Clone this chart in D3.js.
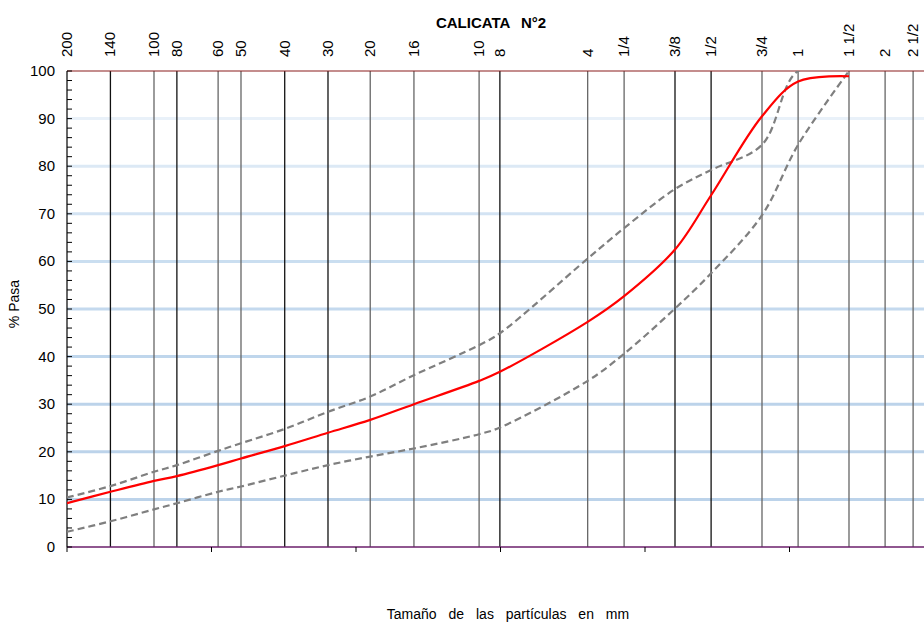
<!DOCTYPE html>
<html>
<head>
<meta charset="utf-8">
<script src="https://cdn.jsdelivr.net/npm/d3@7"></script>
<style>
  html, body { margin: 0; padding: 0; background: #fff; }
  svg { display: block; font-family: "Liberation Sans", Arial, sans-serif; }
</style>
</head>
<body>
<svg id="chart" width="924" height="622"></svg>
<script>
// Sieve designations and their openings in mm
const sieveLabels = ["200","140","100","80","60","50","40","30","20","16","10","8","4","1/4","3/8","1/2","3/4","1","1 1/2","2","2 1/2"];
const sieveMm = [0.075,0.106,0.15,0.18,0.25,0.3,0.425,0.6,0.84,1.19,2.0,2.36,4.75,6.35,9.525,12.7,19.05,25.4,38.1,50.8,63.5];
// darker lines vs. grey lines for each sieve
const sieveShade = ["g","k","g","k","g","g","k","k","g","g","g","k","g","g","k","k","g","g","g","g","g"];

// % passing, sieves 200 .. 1 1/2
const sampleMm = [0.075,0.106,0.15,0.18,0.25,0.3,0.425,0.6,0.84,1.19,2.0,2.36,4.75,6.35,9.525,12.7,19.05,25.4,38.1];
const samplePass = [9.2,11.6,13.9,14.9,17.2,18.6,21.2,24.0,26.7,30.0,34.9,36.8,47.3,52.7,62.5,73.9,90.5,97.8,98.9];
const upperLimit = [10.4,12.8,15.8,17.2,20.2,21.8,24.8,28.4,31.6,36.1,42.4,44.9,60.6,67.0,75.2,79.2,84.5,100,100];
const lowerLimit = [3.2,5.4,7.9,9.2,11.6,12.7,15.0,17.2,19.0,20.7,23.7,25.1,34.9,40.6,50.1,57.5,69.7,84.5,100];

const yTicks = [0,10,20,30,40,50,60,70,80,90,100];
const gridShade = {10:"#bcd3ea",20:"#bcd3ea",30:"#bcd3ea",40:"#bfd6ec",50:"#c4d9ee",60:"#cadef0",70:"#d3e3f3",80:"#dce9f5",90:"#e9f1f9"};

const svg = d3.select("#chart");
const plotLeft = 67, plotTop = 71, plotBottom = 547;

const x = d3.scaleLog().domain([0.075, 75]).range([plotLeft, 934]);
const y = d3.scaleLinear().domain([0, 100]).range([plotBottom, plotTop]);

// clip region for the data area
svg.append("defs").append("clipPath").attr("id", "plotClip")
  .append("rect").attr("x", plotLeft).attr("y", plotTop)
  .attr("width", 934 - plotLeft).attr("height", plotBottom - plotTop);

// horizontal gridlines
svg.append("g").selectAll("line")
  .data(yTicks.filter(d => d > 0 && d < 100))
  .join("line")
  .attr("x1", plotLeft).attr("x2", 924)
  .attr("y1", d => y(d)).attr("y2", d => y(d))
  .attr("stroke", d => gridShade[d]).attr("stroke-width", 3);

// vertical sieve lines
svg.append("g").selectAll("line")
  .data(sieveMm.map((d, i) => ({ mm: d, shade: sieveShade[i] })).slice(1))
  .join("line")
  .attr("x1", d => x(d.mm)).attr("x2", d => x(d.mm))
  .attr("y1", plotTop).attr("y2", plotBottom)
  .attr("stroke", d => d.shade === "k" ? "#111" : "#666")
  .attr("stroke-width", 1.3);

// plot frame: top border and axes
svg.append("line").attr("x1", plotLeft).attr("x2", 924).attr("y1", plotTop).attr("y2", plotTop)
  .attr("stroke", "#8a1c1c").attr("stroke-width", 1.2);
svg.append("line").attr("x1", plotLeft).attr("x2", 924).attr("y1", plotBottom).attr("y2", plotBottom)
  .attr("stroke", "#6b1f6b").attr("stroke-width", 1.6);
svg.append("line").attr("x1", plotLeft).attr("x2", plotLeft).attr("y1", plotTop).attr("y2", plotBottom)
  .attr("stroke", "#000").attr("stroke-width", 1.2);

// y axis: minor ticks every 2 units inside, labels every 10
svg.append("g").selectAll("line")
  .data(d3.range(0, 101, 2))
  .join("line")
  .attr("x1", plotLeft).attr("x2", plotLeft + 5)
  .attr("y1", d => y(d)).attr("y2", d => y(d))
  .attr("stroke", "#000").attr("stroke-width", 1);
svg.append("g").selectAll("text")
  .data(yTicks)
  .join("text")
  .attr("x", 55).attr("y", d => y(d) + 5)
  .attr("text-anchor", "end")
  .attr("font-size", 15).attr("fill", "#000")
  .text(d => d);

// x axis half-decade tick marks
svg.append("g").selectAll("line")
  .data([0, 1, 2, 3, 4, 5].map(k => 0.075 * Math.pow(10, k / 2)))
  .join("line")
  .attr("x1", d => x(d)).attr("x2", d => x(d))
  .attr("y1", plotBottom).attr("y2", plotBottom + 5)
  .attr("stroke", "#000").attr("stroke-width", 1);

// sieve labels along the top
svg.append("g").selectAll("text")
  .data(sieveMm.map((d, i) => ({ mm: d, label: sieveLabels[i] })))
  .join("text")
  .attr("transform", d => `translate(${x(d.mm) + 5},57) rotate(-90)`)
  .attr("font-size", 15).attr("fill", "#000")
  .text(d => d.label);

// curves
const plot = svg.append("g").attr("clip-path", "url(#plotClip)");
const line = vals => d3.line()
  .x((d, i) => x(sampleMm[i]))
  .y(d => y(d))
  .curve(d3.curveCatmullRom.alpha(0.5))(vals);

plot.append("path").attr("d", line(upperLimit))
  .attr("fill", "none").attr("stroke", "#7f7f7f").attr("stroke-width", 2.2)
  .attr("stroke-dasharray", "7,4");
plot.append("path").attr("d", line(lowerLimit))
  .attr("fill", "none").attr("stroke", "#7f7f7f").attr("stroke-width", 2.2)
  .attr("stroke-dasharray", "7,4");
plot.append("path").attr("d", line(samplePass))
  .attr("fill", "none").attr("stroke", "#ff0000").attr("stroke-width", 2.2);

// titles
svg.append("text").attr("x", 491).attr("y", 28).attr("text-anchor", "middle")
  .attr("font-size", 15).attr("font-weight", "bold").attr("word-spacing", 7)
  .text("CALICATA N°2");
svg.append("text").attr("transform", "translate(19,304) rotate(-90)")
  .attr("text-anchor", "middle").attr("font-size", 14)
  .text("% Pasa");
svg.append("text").attr("x", 508).attr("y", 619).attr("text-anchor", "middle")
  .attr("font-size", 14).attr("word-spacing", 8)
  .text("Tamaño de las partículas en mm");
</script>
</body>
</html>
